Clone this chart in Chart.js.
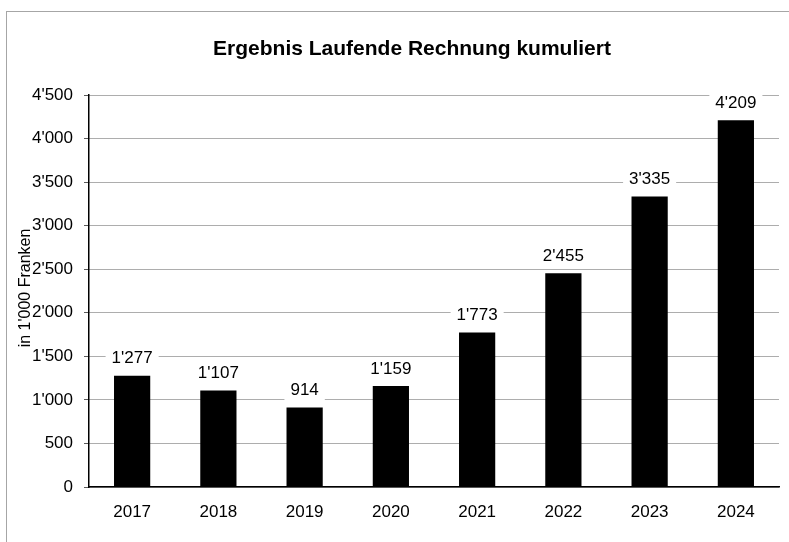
<!DOCTYPE html>
<html>
<head>
<meta charset="utf-8">
<script src="https://cdn.jsdelivr.net/npm/chart.js@4/dist/chart.umd.min.js"></script>
<style>
    html, body { margin: 0; padding: 0; background: #fff; }
    #wrap { width: 789px; height: 542px; }
</style>
</head>
<body>
<div id="wrap"><canvas id="chart" width="789" height="542"></canvas></div>
<script>
// Chart data
const years = ['2017', '2018', '2019', '2020', '2021', '2022', '2023', '2024'];
const resultValues = [1277, 1107, 914, 1159, 1773, 2455, 3335, 4209];
const yTicks = [0, 500, 1000, 1500, 2000, 2500, 3000, 3500, 4000, 4500];

const chartTitle = 'Ergebnis Laufende Rechnung kumuliert';
const yAxisTitle = "in 1'000 Franken";
const fontFamily = "'Liberation Sans', Arial, sans-serif";

// Swiss style thousands separator: 4'209
function formatNumber(v) {
    return String(v).replace(/\B(?=(\d{3})+(?!\d))/g, "'");
}

// Frame, title, rotated axis title and value labels
const decorPlugin = {
    id: 'decor',
    beforeDraw(chart) {
        const ctx = chart.ctx;
        ctx.save();
        ctx.fillStyle = '#fff';
        ctx.fillRect(0, 0, chart.width, chart.height);
        ctx.strokeStyle = '#a6a6a6';
        ctx.lineWidth = 1;
        ctx.strokeRect(6.5, 11.5, chart.width + 50, chart.height + 50);
        ctx.restore();
    },
    afterDraw(chart) {
        const ctx = chart.ctx;
        const area = chart.chartArea;
        ctx.save();
        ctx.fillStyle = '#000';
        ctx.textAlign = 'center';
        ctx.textBaseline = 'middle';
        ctx.font = 'bold 21px ' + fontFamily;
        ctx.fillText(chartTitle, 412, 49);

        ctx.save();
        ctx.translate(26, (area.top + area.bottom) / 2 - 3);
        ctx.rotate(-Math.PI / 2);
        ctx.font = '16px ' + fontFamily;
        ctx.fillText(yAxisTitle, 0, 0);
        ctx.restore();

        ctx.font = '17px ' + fontFamily;
        const meta = chart.getDatasetMeta(0);
        meta.data.forEach((bar, i) => {
            const text = formatNumber(resultValues[i]);
            const w = ctx.measureText(text).width + 12;
            const h = 20;
            const cy = bar.y - 17;
            ctx.fillStyle = '#fff';
            ctx.fillRect(bar.x - w / 2, cy - h / 2, w, h);
            ctx.fillStyle = '#000';
            ctx.fillText(text, bar.x, cy);
        });
        ctx.restore();
    }
};

new Chart(document.getElementById('chart'), {
    type: 'bar',
    data: {
        labels: years,
        datasets: [{
            data: resultValues,
            backgroundColor: '#000',
            borderWidth: 0,
            categoryPercentage: 1,
            barPercentage: 0.42
        }]
    },
    options: {
        responsive: false,
        animation: false,
        layout: { padding: { top: 95, right: 10, left: 0, bottom: 0 } },
        plugins: {
            legend: { display: false },
            title: { display: false },
            tooltip: { enabled: false }
        },
        scales: {
            x: {
                grid: { display: false },
                border: { display: true, color: '#000', width: 1.5 },
                ticks: {
                    color: '#000',
                    padding: 7,
                    font: { family: fontFamily, size: 17 }
                },
                afterFit(scale) { scale.height = 55; }
            },
            y: {
                min: 0,
                max: yTicks[yTicks.length - 1],
                afterBuildTicks(scale) {
                    scale.ticks = yTicks.map(v => ({ value: v }));
                },
                grid: {
                    color: '#5a5a5a',
                    lineWidth: 1,
                    tickLength: 5,
                    tickColor: '#5a5a5a'
                },
                border: { display: true, color: '#000', width: 1.5, dash: [1, 1] },
                ticks: {
                    color: '#000',
                    padding: 11,
                    font: { family: fontFamily, size: 17 },
                    callback: v => formatNumber(v)
                },
                afterFit(scale) { scale.width = 89; }
            }
        }
    },
    plugins: [decorPlugin]
});
</script>
</body>
</html>
